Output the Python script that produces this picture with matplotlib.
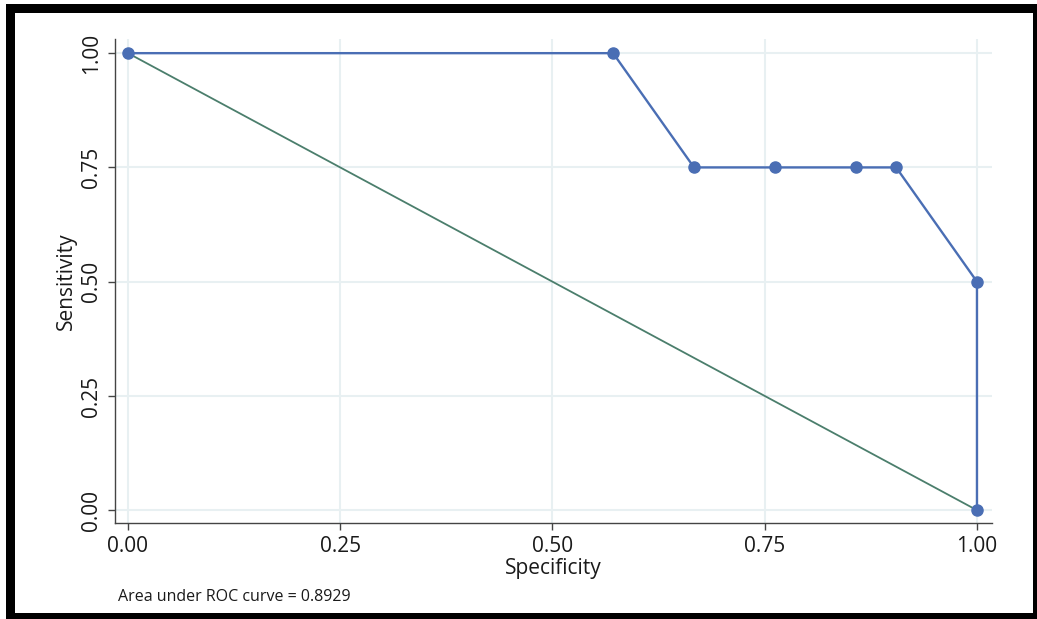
import matplotlib.pyplot as plt
from matplotlib.patches import Rectangle

# ROC points
specificity = [0.0, 0.5714, 0.6667, 0.7619, 0.8571, 0.9048, 1.0, 1.0]
sensitivity = [1.0, 1.0, 0.75, 0.75, 0.75, 0.75, 0.5, 0.0]
ref_x = [0.0, 1.0]
ref_y = [1.0, 0.0]
ticks = [0.0, 0.25, 0.5, 0.75, 1.0]
tick_labels = ['0.00', '0.25', '0.50', '0.75', '1.00']
auc_note = 'Area under ROC curve = 0.8929'

plt.rcParams['font.family'] = ['Open Sans', 'DejaVu Sans']

W, H = 1037, 619
fig = plt.figure(figsize=(W / 100, H / 100), dpi=100)
fig.patch.set_facecolor('white')

# black frame around the graph (drawn behind the axes)
fig.patches.append(Rectangle((6 / W, 0), (W - 6) / W, (H - 4) / H,
                             transform=fig.transFigure, facecolor='black',
                             edgecolor='none', zorder=-2))
fig.patches.append(Rectangle((15 / W, (H - 613) / H), (1033 - 15) / W, (613 - 13) / H,
                             transform=fig.transFigure, facecolor='white',
                             edgecolor='none', zorder=-1))

ax = fig.add_axes([115 / W, 1 - 523 / H, (992 - 115) / W, (523 - 39) / H])
ax.set_facecolor('none')
ax.set_zorder(1)

ax.plot(ref_x, ref_y, color='#4b7e6c', lw=1.3, zorder=2)
ax.plot(specificity, sensitivity, color='#4a6eb4', lw=1.7, marker='o',
        markersize=8, zorder=3, clip_on=False)

ax.set_xlim(-0.0153, 1.0177)
ax.set_ylim(-0.028, 1.031)
ax.set_xticks(ticks)
ax.set_xticklabels(tick_labels)
ax.set_yticks(ticks)
ax.set_yticklabels(tick_labels, rotation=90, va='center')
ax.grid(True, color='#e8f0f2', lw=1.5, zorder=0)
ax.set_axisbelow(True)

for s in ['top', 'right']:
    ax.spines[s].set_visible(False)
for s in ['left', 'bottom']:
    ax.spines[s].set_color('#444444')
    ax.spines[s].set_linewidth(1.0)
ax.tick_params(direction='out', length=5, width=1.0, color='#444444',
               labelsize=15, labelcolor='#1a1a1a', pad=4)

ax.set_xlabel('Specificity', fontsize=15, color='#1a1a1a', labelpad=1)
ax.set_ylabel('Sensitivity', fontsize=15, color='#1a1a1a', labelpad=3)

fig.text(118 / W, 1 - 597 / H, auc_note, fontsize=11.5, color='#1a1a1a',
         ha='left', va='center')

fig.savefig('out.png', dpi=100)
